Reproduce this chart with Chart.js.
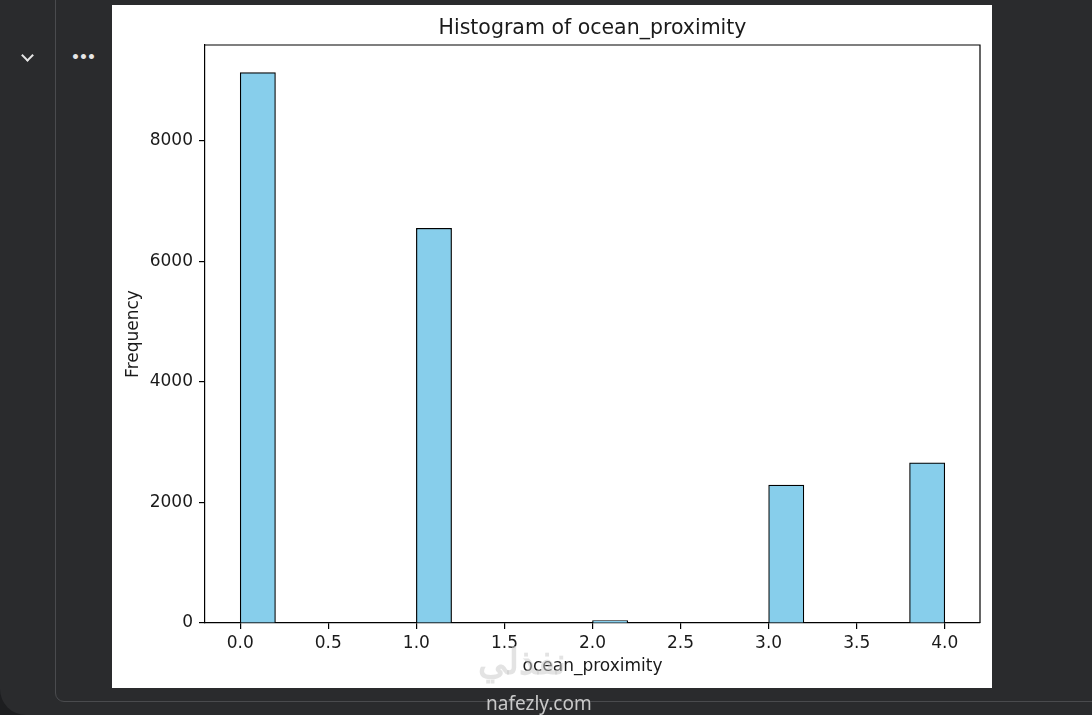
<!DOCTYPE html>
<html>
<head>
<meta charset="utf-8">
<script src="https://cdn.jsdelivr.net/npm/chart.js@4.4.1/dist/chart.umd.min.js"></script>
<style>
  html, body { margin: 0; padding: 0; }
  body { width: 1092px; height: 715px; overflow: hidden; background: #1d1e20; position: relative; font-family: "DejaVu Sans", sans-serif; }
  #panel { position: absolute; left: 0; top: -30px; width: 1130px; height: 745px; background: #2a2b2d; border-radius: 26px; }
  #cell { position: absolute; left: 55px; top: -20px; width: 1100px; height: 722px; border: 1px solid #4a4b4e; border-radius: 9px; box-sizing: border-box; }
  #chev { position: absolute; left: 23px; top: 51px; width: 7px; height: 7px; border-right: 2px solid #e6e6e6; border-bottom: 2px solid #e6e6e6; transform: rotate(45deg); }
  #dots { position: absolute; left: 71px; top: 49px; color: #e6e6e6; font-size: 14px; letter-spacing: -1px; font-weight: bold; }
  #fig { position: absolute; left: 112px; top: 5px; width: 880px; height: 683px; background: #ffffff; }
  #wm { position: absolute; left: 486px; top: 690px; color: #c9c9c9; font-family: "Noto Sans", sans-serif; font-size: 19px; }
  #wmar { position: absolute; left: 478px; top: 636px; color: rgba(200,200,200,0.5); font-family: "Noto Sans", sans-serif; font-size: 36px; font-weight: bold; }
</style>
</head>
<body>
<div id="panel"></div>
<div id="cell"></div>
<div id="chev"></div>
<div id="dots">•••</div>
<div id="fig"><canvas id="c" width="880" height="683"></canvas></div>
<div id="wmar">نفذلي</div>
<div id="wm">nafezly.com</div>
<script>
// ---- data ----
const chartTitle = "Histogram of ocean_proximity";
const xLabel = "ocean_proximity";
const yLabel = "Frequency";
const binEdges = [0.0, 0.2, 0.4, 0.6, 0.8, 1.0, 1.2, 1.4, 1.6, 1.8, 2.0, 2.2, 2.4, 2.6, 2.8, 3.0, 3.2, 3.4, 3.6, 3.8, 4.0];
const counts = [9136, 0, 0, 0, 0, 6551, 0, 0, 0, 0, 5, 0, 0, 0, 0, 2290, 0, 0, 0, 2658];
const xTicks = [0.0, 0.5, 1.0, 1.5, 2.0, 2.5, 3.0, 3.5, 4.0];
const xTickLabels = ["0.0", "0.5", "1.0", "1.5", "2.0", "2.5", "3.0", "3.5", "4.0"];
const yTicks = [0, 2000, 4000, 6000, 8000];
const yTickLabels = ["0", "2000", "4000", "6000", "8000"];
const xRange = [-0.2, 4.2];
const yRange = [0, 9593];

const points = counts.map((c, i) => ({ x: (binEdges[i] + binEdges[i + 1]) / 2, y: c }));

const FONT = "'DejaVu Sans', sans-serif";

const framePlugin = {
  id: 'frame',
  afterDraw(chart) {
    const { ctx, chartArea: a } = chart;
    ctx.save();
    ctx.strokeStyle = '#000';
    ctx.lineWidth = 1.2;
    ctx.beginPath();
    ctx.moveTo(a.left, a.top);
    ctx.lineTo(a.right, a.top);
    ctx.lineTo(a.right, a.bottom);
    ctx.stroke();
    ctx.fillStyle = '#1a1a1a';
    ctx.font = "20.5px " + FONT;
    ctx.textAlign = 'center';
    ctx.textBaseline = 'middle';
    ctx.fillText(chartTitle, (a.left + a.right) / 2, 24);
    ctx.restore();
  }
};

new Chart(document.getElementById('c'), {
  type: 'bar',
  data: {
    datasets: [{
      data: points,
      backgroundColor: c => (c.raw && c.raw.y === 0) ? 'rgba(0,0,0,0)' : '#87ceeb',
      borderColor: c => (c.raw && c.raw.y === 0) ? 'rgba(0,0,0,0)' : '#000000',
      borderWidth: 1.2,
      borderSkipped: 'start',
      minBarLength: 2.5,
      barPercentage: 1.0,
      categoryPercentage: 1.0
    }]
  },
  options: {
    responsive: false,
    animation: false,
    events: [],
    layout: { padding: { left: 0, top: 40, right: 12, bottom: 0 } },
    plugins: { legend: { display: false }, tooltip: { enabled: false }, title: { display: false } },
    scales: {
      x: {
        type: 'linear',
        min: xRange[0],
        max: xRange[1],
        offset: false,
        afterBuildTicks: s => { s.ticks = xTicks.map(v => ({ value: v })); },
        afterFit: s => { s.height = 65; },
        ticks: {
          color: '#1a1a1a',
          font: { family: FONT, size: 17 },
          padding: 4,
          maxRotation: 0,
          autoSkip: false,
          callback: (v, i) => xTickLabels[i]
        },
        grid: { display: true, drawOnChartArea: false, drawTicks: true, tickLength: 6, color: '#000', lineWidth: 1.2, offset: false },
        border: { display: true, color: '#000', width: 1.2 },
        title: { display: true, text: xLabel, color: '#1a1a1a', font: { family: FONT, size: 17, lineHeight: 1.2 }, padding: { top: 0, bottom: 11 } }
      },
      y: {
        type: 'linear',
        min: yRange[0],
        max: yRange[1],
        afterBuildTicks: s => { s.ticks = yTicks.map(v => ({ value: v })); },
        afterFit: s => { s.width = 93; },
        ticks: {
          color: '#1a1a1a',
          font: { family: FONT, size: 17 },
          padding: 6,
          autoSkip: false,
          callback: (v, i) => yTickLabels[i]
        },
        grid: { display: true, drawOnChartArea: false, drawTicks: true, tickLength: 6, color: '#000', lineWidth: 1.2 },
        border: { display: true, color: '#000', width: 1.2 },
        title: { display: true, text: yLabel, color: '#1a1a1a', font: { family: FONT, size: 17, lineHeight: 1.2 }, padding: { top: 11, bottom: 0 } }
      }
    }
  },
  plugins: [framePlugin]
});
</script>
</body>
</html>
